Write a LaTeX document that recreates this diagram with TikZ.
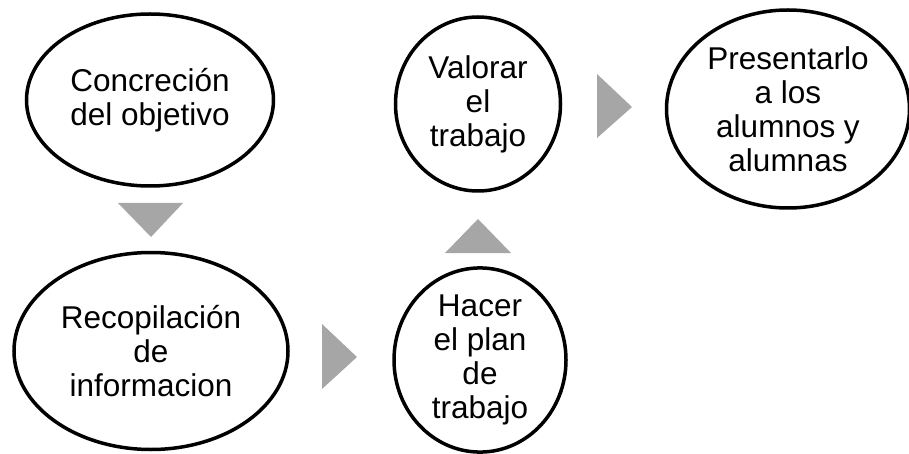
\documentclass[tikz,border=0pt]{standalone}
\usepackage{fontspec}
\setmainfont{Liberation Sans}
\usetikzlibrary{shapes.geometric}
\definecolor{arrowgray}{RGB}{166,166,166}
\begin{document}
\begin{tikzpicture}[x=1pt,y=-1pt,
  stage/.style={ellipse, draw=black, line width=3.5pt, fill=white, inner sep=0pt, align=center,
    font=\fontsize{31.5}{34}\selectfont},
  chevron/.style={fill=arrowgray, draw=none}]
\useasboundingbox (0,0) rectangle (909,454);
\node[stage, minimum width=247pt, minimum height=172pt] (a) at (150,100) {Concreción\\del objetivo};
\node[stage, minimum width=274pt, minimum height=197pt] (b) at (151,351) {Recopilación\\de\\informacion};
\node[stage, minimum width=172pt, minimum height=154pt] (c) at (480,360) {Hacer\\el plan\\de\\trabajo};
\node[stage, minimum width=165pt, minimum height=174pt] (d) at (478,104) {Valorar\\el\\trabajo};
\node[stage, minimum width=243pt, minimum height=198pt] (e) at (788,109) {Presentarlo\\a los\\alumnos y\\alumnas};
% chevrons
\coordinate (ab) at (151,220);
\coordinate (bc) at (340,357);
\coordinate (cd) at (478,236);
\coordinate (de) at (615,107);
\fill[chevron] ([xshift=-33pt,yshift=17pt]ab) -- ([xshift=32pt,yshift=17pt]ab) -- ([yshift=-17pt]ab) -- cycle;
\fill[chevron] ([xshift=-18pt,yshift=33pt]bc) -- ([xshift=-18pt,yshift=-32pt]bc) -- ([xshift=17pt]bc) -- cycle;
\fill[chevron] ([xshift=-33pt,yshift=-17pt]cd) -- ([xshift=33pt,yshift=-17pt]cd) -- ([yshift=17pt]cd) -- cycle;
\fill[chevron] ([xshift=-18pt,yshift=33pt]de) -- ([xshift=-18pt,yshift=-31pt]de) -- ([xshift=17pt]de) -- cycle;
\end{tikzpicture}
\end{document}
